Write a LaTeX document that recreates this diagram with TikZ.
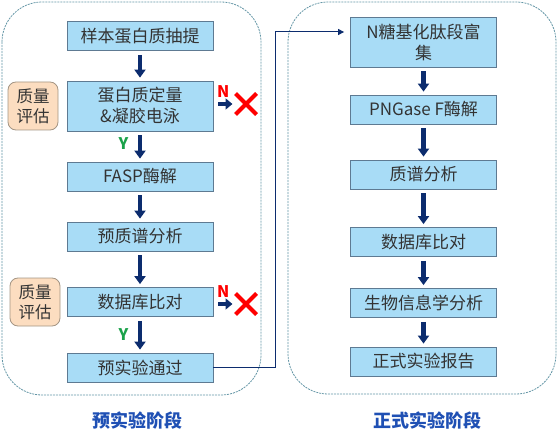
\documentclass[tikz,border=0pt]{standalone}
\usepackage{fontspec}
\setmainfont{Noto Sans CJK SC}
\usepackage{xcolor}
\usepackage{tikz}
\usetikzlibrary{arrows.meta, shapes.misc}

\definecolor{boxfill}{HTML}{A8DCF6}
\definecolor{boxline}{HTML}{5E7A92}
\definecolor{qfill}{HTML}{FCDDC0}
\definecolor{qline}{HTML}{A49584}
\definecolor{panelline}{HTML}{6496A6}
\definecolor{navy}{HTML}{0C2C6E}
\definecolor{stagec}{HTML}{1F50B4}
\definecolor{ygreen}{HTML}{1BA24A}
\definecolor{textc}{HTML}{333333}

\begin{document}
\begin{tikzpicture}[x=1pt, y=-1pt,
    stepbox/.style={draw=boxline, fill=boxfill, line width=0.8pt, text=textc, font=\fontsize{17}{21}\selectfont, align=center, minimum width=146pt, minimum height=29pt, inner sep=2pt},
    qbox/.style={draw=qline, fill=qfill, line width=0.8pt, rounded corners=8pt, text=textc, font=\fontsize{16.5}{20}\selectfont, align=center, minimum width=50pt, minimum height=48pt, inner sep=1pt},
    panel/.style={draw=panelline, line width=0.8pt, dash pattern=on 2pt off 1pt, rounded corners=40pt},
    down/.style={navy, line width=4.5pt, -{Triangle[width=11pt, length=8pt]}, shorten <=4pt, shorten >=3pt},
    nojump/.style={navy, line width=4.5pt, -{Triangle[width=11pt, length=7pt]}},
    nomark/.style={cross out, draw=red, line width=4pt, minimum size=17pt, inner sep=0pt},
    yes/.style={text=ygreen, font=\fontsize{16}{18}\selectfont\bfseries},
    no/.style={text=red, font=\fontsize{16}{18}\selectfont\bfseries},
    stage/.style={text=stagec, font=\fontsize{18}{21}\selectfont\bfseries}]
    \useasboundingbox (0, 0) rectangle (557, 441);

    \draw[panel] (2, 2) rectangle (261, 395);
    \draw[panel] (288, 2) rectangle (556, 394);

    \node[stepbox] at (140, 36) (l1) {样本蛋白质抽提};
    \node[stepbox, minimum height=50pt] at (140, 106) (l2) {蛋白质定量\\\&凝胶电泳};
    \node[stepbox] at (140, 176.5) (l3) {FASP酶解};
    \node[stepbox] at (140, 236.5) (l4) {预质谱分析};
    \node[stepbox] at (140, 302) (l5) {数据库比对};
    \node[stepbox] at (140, 367.5) (l6) {预实验通过};

    \node[qbox] at (33, 106) (q1) {质量\\评估};
    \node[qbox] at (35, 302) (q2) {质量\\评估};

    \node[nomark] at (246, 104) (x1) {};
    \node[nomark] at (246, 304) (x2) {};

    \node[stepbox, minimum height=50pt] at (423.5, 42) (r1) {N糖基化肽段富\\集};
    \node[stepbox] at (423.5, 109.5) (r2) {PNGase F酶解};
    \node[stepbox] at (423.5, 174.5) (r3) {质谱分析};
    \node[stepbox] at (423.5, 242) (r4) {数据库比对};
    \node[stepbox] at (423.5, 303) (r5) {生物信息学分析};
    \node[stepbox] at (423.5, 361.5) (r6) {正式实验报告};

    \node[stage] at (137, 421) (s1) {预实验阶段};
    \node[stage] at (427, 421) (s2) {正式实验阶段};

    \draw[down] (l1) -- (l2);
    \draw[down] (l2) -- node[yes, left=6pt, pos=0.4] {Y} (l3);
    \draw[down] (l3) -- (l4);
    \draw[down] (l4) -- (l5);
    \draw[down] (l5) -- node[yes, left=6pt, pos=0.5] {Y} (l6);

    \draw[nojump, shorten <=5pt, shorten >=3pt] (l2.east |- x1) -- node[no, above=1pt, pos=0.45] {N} (x1);
    \draw[nojump, shorten <=5pt, shorten >=3pt] (l5.east |- x2) -- node[no, above=1pt, pos=0.45] {N} (x2);

    \draw[down] (r1) -- (r2);
    \draw[down] (r2) -- (r3);
    \draw[down] (r3) -- (r4);
    \draw[down] (r4) -- (r5);
    \draw[down] (r5) -- (r6);

    \coordinate (turn) at (275, 367.5);
    \draw[navy, line width=1pt, -{Triangle[width=6pt, length=6pt]}, shorten >=6pt] (l6.east) -- (turn) |- ([yshift=10pt]r1.west);
\end{tikzpicture}
\end{document}
